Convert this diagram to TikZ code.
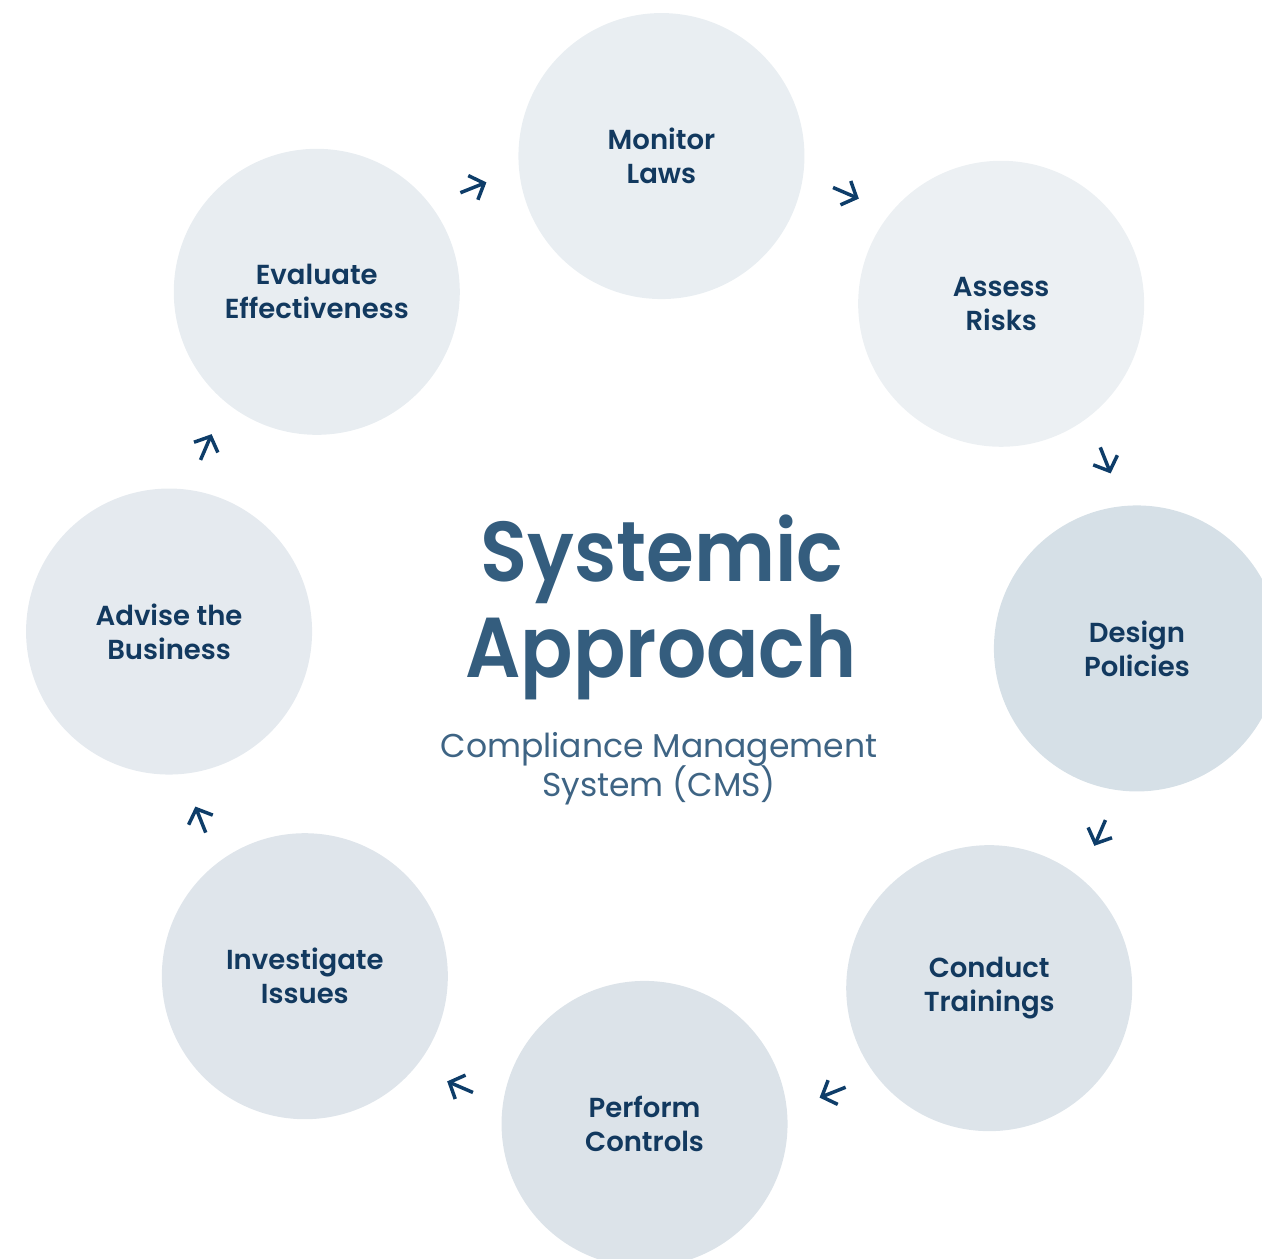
\documentclass[tikz,border=0pt]{standalone}
\usepackage{fontspec}
\setmainfont{Poppins}
\newfontfamily\labelfont{Poppins SemiBold}
\newfontfamily\titlefont[FakeStretch=0.91]{Poppins SemiBold}
\usetikzlibrary{arrows.meta,calc}

\definecolor{navy}{HTML}{12395F}
\definecolor{arrownavy}{HTML}{0E3D69}
\definecolor{titleblue}{HTML}{345D7E}
\definecolor{subblue}{HTML}{3E6484}
\definecolor{fillA}{HTML}{E9EEF2}
\definecolor{fillB}{HTML}{ECF0F3}
\definecolor{fillC}{HTML}{D6E0E7}
\definecolor{fillD}{HTML}{DDE4EA}
\definecolor{fillE}{HTML}{DCE3E9}
\definecolor{fillF}{HTML}{DFE5EB}
\definecolor{fillG}{HTML}{E5EAEF}
\definecolor{fillH}{HTML}{E8EDF1}

\begin{document}
\begin{tikzpicture}[x=1pt,y=1pt,
    stage/.style={circle,minimum size=286pt,inner sep=0pt,text=navy,align=center,
      font=\labelfont\fontsize{27.5}{34}\selectfont},
    cyclearrow/.style={draw=arrownavy,line width=3.5pt,
      -{Straight Barb[length=12pt,width=26pt]}}]
  \useasboundingbox (0,0) rectangle (1262,1259);
  \coordinate (hub) at (653,619);
  % the eight stages round the hub
  \foreach \k/\name/\txt/\col in {0/monitor/{Monitor\\Laws}/fillA,
      1/assess/{Assess\\Risks}/fillB,
      2/design/{Design\\Policies}/fillC,
      3/conduct/{Conduct\\Trainings}/fillD,
      4/perform/{Perform\\Controls}/fillE,
      5/investigate/{Investigate\\Issues}/fillF,
      6/advise/{Advise the\\Business}/fillG,
      7/evaluate/{Evaluate\\Effectiveness}/fillH}
    \node[stage,fill=\col] (\name) at ($(hub)+({89-45*\k}:484)$) {\txt};
  % small arrows in the gaps, clockwise
  \foreach \k in {0,...,7}{
    \coordinate (tail\k) at ($(hub)+({113.3-45*\k}:487)$);
    \coordinate (tip\k) at ($(hub)+({110-45*\k}:487)$);
    \draw[cyclearrow] (tail\k) -- (tip\k);
  }
  % title in the middle
  \node[anchor=base,text=titleblue,font=\titlefont\fontsize{85}{96}\selectfont] (sys) at (662,677) {Systemic};
  \node[anchor=base,text=titleblue,font=\titlefont\fontsize{85}{96}\selectfont] (app) at (661,581) {Approach};
  \node[anchor=base,text=subblue,font=\fontsize{33}{40}\selectfont] (cms1) at (659,501) {Compliance Management};
  \node[anchor=base,text=subblue,font=\fontsize{33}{40}\selectfont] (cms2) at (659,462) {System (CMS)};
\end{tikzpicture}
\end{document}
